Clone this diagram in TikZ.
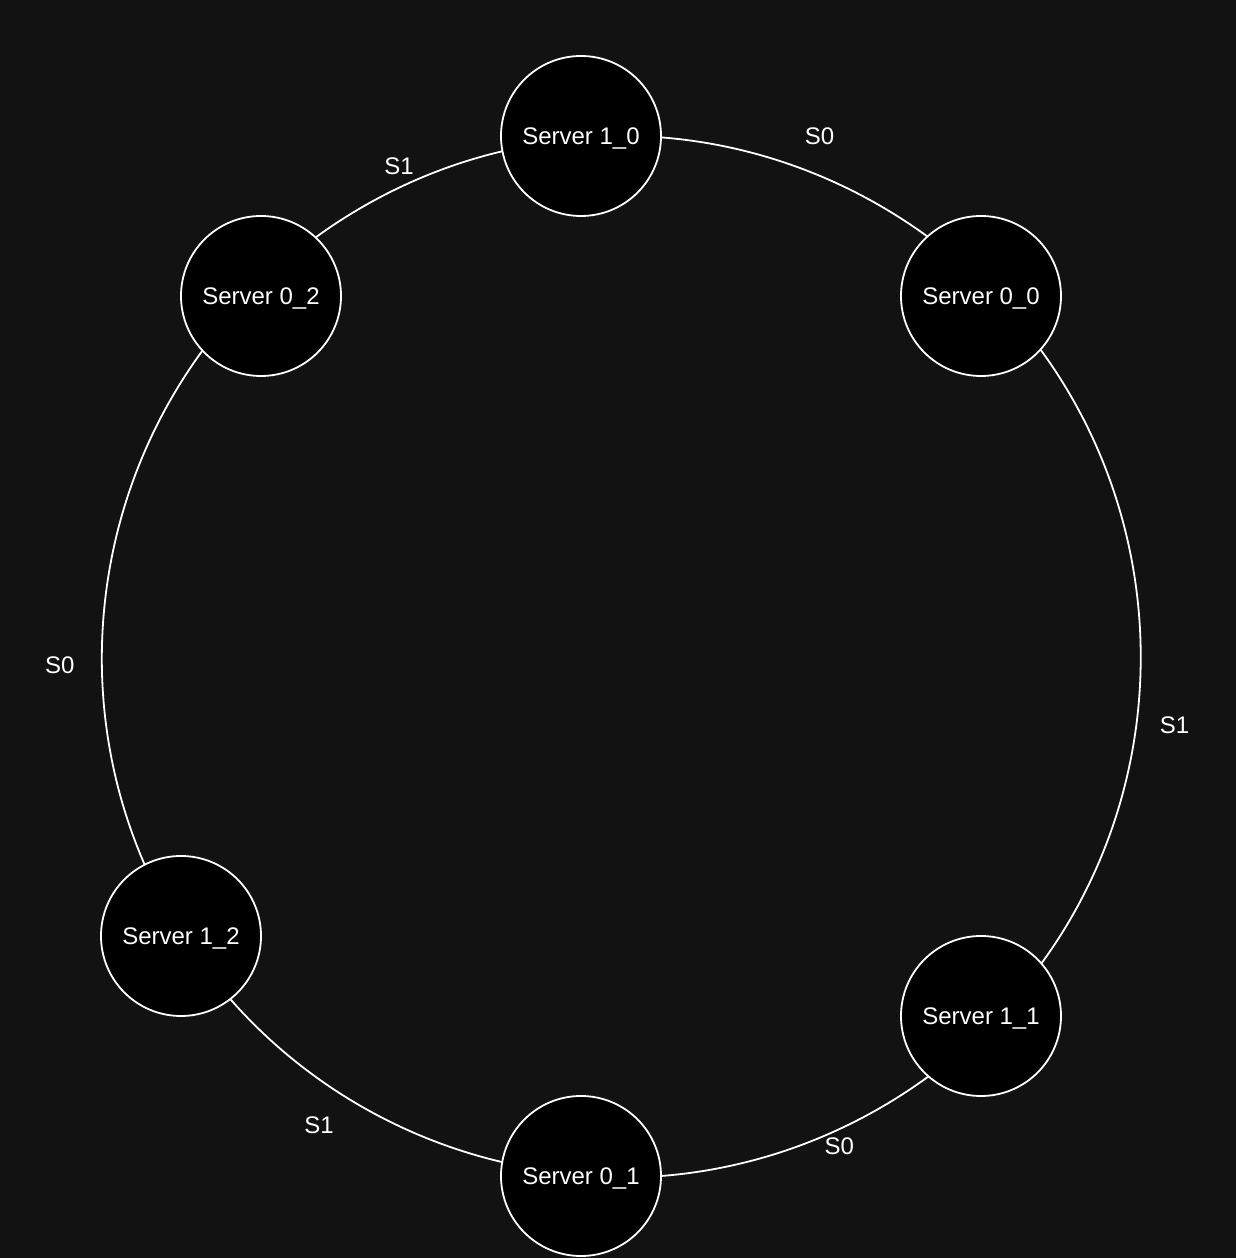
\documentclass[tikz,border=0pt]{standalone}
\usepackage{fontspec}
\setmainfont{Liberation Sans}
\definecolor{bg}{HTML}{121212}
\tikzset{
  server/.style={circle, draw=white, fill=black, line width=1.8pt, minimum size=160pt,
    inner sep=0pt, outer sep=0pt, text=white, font=\fontsize{24}{28}\selectfont,
    text height=17.3pt, text depth=0pt},
  ring/.style={draw=white, line width=1.8pt},
  lbl/.style={text=white, font=\fontsize{24}{28}\selectfont, inner sep=0pt,
    text height=17.3pt, text depth=0pt}
}
\begin{document}
\begin{tikzpicture}[x=1pt,y=1pt]
\fill[bg] (0,0) rectangle (1236,1258);
\useasboundingbox (0,0) rectangle (1236,1258);
\node[server] (n10) at (581,1122) {Server 1\_0};
\node[server] (n00) at (981,962) {Server 0\_0};
\node[server] (n11) at (981,242) {Server 1\_1};
\node[server] (n01) at (581,82) {Server 0\_1};
\node[server] (n12) at (181,322) {Server 1\_2};
\node[server] (n02) at (261,962) {Server 0\_2};
\draw[ring] (n10.-1.82) to[out=-4.41, in=143.92, looseness=0.868] (n00.132.21);
\draw[ring] (n00.-42.06) to[out=-53.76, in=53.91, looseness=0.942] (n11.41.2);
\draw[ring] (n11.-131.0) to[out=-143.75, in=4.41, looseness=0.868] (n01.0.36);
\draw[ring] (n01.170.8) to[out=166.77, in=-48.80, looseness=0.872] (n12.-52.45);
\draw[ring] (n12.117.2) to[out=113.56, in=233.76, looseness=0.912] (n02.-137.94);
\draw[ring] (n02.47.79) to[out=36.08, in=193.19, looseness=0.860] (n10.-169.42);
\node[lbl] (l1) at (819.5,1122) {S0};
\node[lbl] (l2) at (1174.5,532.7) {S1};
\node[lbl] (l3) at (839.3,112) {S0};
\node[lbl] (l4) at (319,132.7) {S1};
\node[lbl] (l5) at (59.8,592.7) {S0};
\node[lbl] (l6) at (399,1092) {S1};
\end{tikzpicture}
\end{document}
